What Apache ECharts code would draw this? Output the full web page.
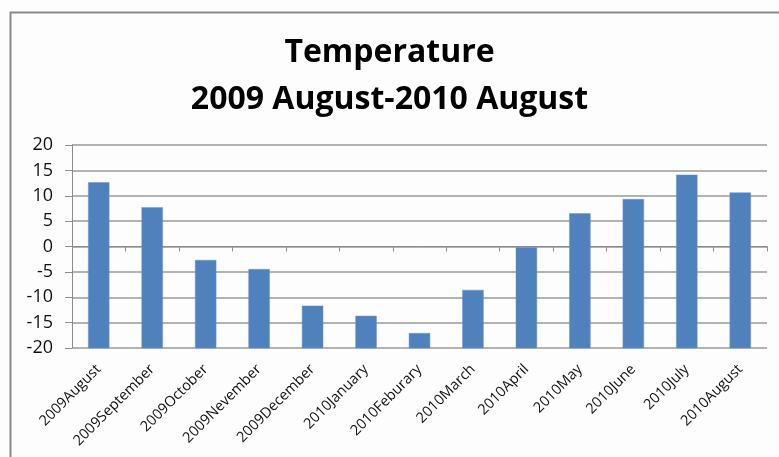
<!DOCTYPE html>
<html>
<head>
<meta charset="utf-8">
<script src="https://cdn.jsdelivr.net/npm/echarts@6/dist/echarts.min.js"></script>
<style>
  html, body { margin: 0; padding: 0; background: #fdfdfd; }
  #chart { width: 779px; height: 457px; }
</style>
</head>
<body>
<div id="chart"></div>
<script>
// months shown on the category axis
var months = [
  '2009August', '2009September', '2009October', '2009Nevember', '2009December',
  '2010January', '2010Feburary', '2010March', '2010April', '2010May',
  '2010June', '2010July', '2010August'
];
// temperature values
var temps = [12.6, 7.7, -2.7, -4.5, -11.7, -13.7, -17.1, -8.6, -0.2, 6.5, 9.3, 14.1, 10.6];
var yTicks = [-20, -15, -10, -5, 0, 5, 10, 15, 20];

var chart = echarts.init(document.getElementById('chart'));

// bars start from the bottom of the axis (-20), like the excel original
function renderBar(params, api) {
  var top = api.coord([api.value(0), api.value(1)]);
  var bottom = api.coord([api.value(0), yTicks[0]]);
  var w = api.size([1, 0])[0] * 0.39;
  return {
    type: 'rect',
    shape: { x: top[0] - w / 2, y: top[1], width: w, height: bottom[1] - top[1] },
    style: { fill: '#4f81bd', stroke: '#6d97cc', lineWidth: 0.5 }
  };
}

chart.setOption({
  backgroundColor: '#fdfdfd',
  animation: false,
  title: {
    text: 'Temperature\n2009 August-2010 August',
    left: 'center',
    top: 24,
    textStyle: {
      fontFamily: 'Open Sans',
      fontWeight: 'bold',
      fontSize: 32,
      lineHeight: 47,
      color: '#000'
    }
  },
  graphic: [{
    type: 'polyline',
    shape: { points: [[10.5, 457], [10.5, 12.5], [779, 12.5]] },
    style: { stroke: '#8a8a8a', lineWidth: 2, fill: null }
  }],
  grid: { left: 72, right: 12, top: 145, bottom: 109 },
  xAxis: {
    type: 'category',
    data: months,
    axisLine: { lineStyle: { color: '#8c8c8c', width: 1 } },
    axisTick: { show: true, alignWithLabel: false, length: 5, lineStyle: { color: '#8c8c8c' } },
    axisLabel: {
      rotate: 45,
      interval: 0,
      margin: 19,
      fontFamily: 'Open Sans',
      fontSize: 14.5,
      color: '#111'
    }
  },
  yAxis: {
    type: 'value',
    min: yTicks[0],
    max: yTicks[yTicks.length - 1],
    interval: 5,
    axisLine: { show: true, lineStyle: { color: '#8c8c8c', width: 1 } },
    axisTick: { show: true, length: 7, lineStyle: { color: '#8c8c8c' } },
    axisLabel: {
      margin: 19,
      fontFamily: 'Open Sans',
      fontSize: 18,
      color: '#111'
    },
    splitLine: { lineStyle: { color: '#9a9a9a', width: 1.5 } }
  },
  series: [{
    type: 'custom',
    renderItem: renderBar,
    encode: { x: 0, y: 1 },
    data: temps.map(function (t, i) { return [i, t]; })
  }]
});
</script>
</body>
</html>
